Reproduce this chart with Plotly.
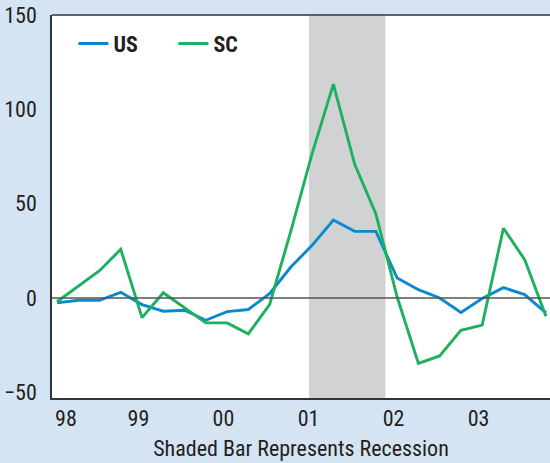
import plotly.graph_objects as go

quarters = [f"{y}Q{q}" for y in range(1998, 2004) for q in range(1, 5)]
us = [-2.6, -1.2, -1.2, 3.0, -3.5, -7.0, -6.5, -11.8, -7.2, -6.1, 2.3, 16.4,
      27.9, 41.3, 35.3, 35.3, 10.6, 4.4, 0.0, -7.7, -0.3, 5.5, 1.8, -7.9]
sc = [-2.0, 6.4, 14.5, 25.8, -10.4, 2.8, -5.0, -13.2, -13.2, -19.0, -3.5, 35.5,
      76.5, 113.4, 71.0, 44.6, 0.5, -34.7, -30.7, -17.1, -14.4, 37.0, 20.3, -9.7]
tick_labels = ["98", "99", "00", "01", "02", "03"]
recession = (11.85, 15.45)

x = list(range(len(quarters)))
tickvals = [0.42] + [4 * i - 0.17 for i in range(1, len(tick_labels))]

FONT = "Liberation Sans Narrow, Roboto Condensed, Noto Sans, sans-serif"
BLUE = "#0889d0"
GREEN = "#1db15e"

fig = go.Figure()
fig.add_trace(go.Scatter(x=x, y=us, mode="lines", name="US",
                         line=dict(color=BLUE, width=2.9)))
fig.add_trace(go.Scatter(x=x, y=sc, mode="lines", name="SC",
                         line=dict(color=GREEN, width=2.9)))

fig.add_shape(type="rect", xref="x", yref="paper", x0=recession[0], x1=recession[1],
              y0=0, y1=1, fillcolor="#d1d2d4", line_width=0, layer="below")
fig.add_shape(type="line", xref="paper", yref="y", x0=0, x1=1, y0=0, y1=0,
              line=dict(color="#555555", width=1.5), layer="above")

fig.update_layout(
    width=550, height=463,
    margin=dict(l=52, r=0, t=15, b=65),
    paper_bgcolor="#d4e4f3",
    plot_bgcolor="white",
    font=dict(family=FONT, size=22, color="#231f20"),
    showlegend=True,
    legend=dict(orientation="h", x=0.043, y=0.98, xanchor="left", yanchor="top",
                bgcolor="rgba(0,0,0,0)", font=dict(size=22, color="#231f20",
                family=FONT, weight="bold"),
                entrywidth=55, entrywidthmode="pixels"),
)
fig.update_xaxes(range=[-0.235, 23.19], tickvals=tickvals, ticktext=tick_labels,
                 showgrid=False, zeroline=False, showline=True, linecolor="#333333",
                 linewidth=1.5, ticks="", mirror=False,
                 title=dict(text="Shaded Bar Represents Recession", standoff=10,
                            font=dict(size=22)))
fig.update_yaxes(range=[-53, 150], tickvals=[-50, 0, 50, 100, 150],
                 showgrid=False, zeroline=False, showline=True, linecolor="#333333",
                 linewidth=1.5, ticks="", ticklabelstandoff=9)
fig.add_shape(type="line", xref="paper", yref="paper", x0=0, x1=1, y0=1, y1=1,
              line=dict(color="#333333", width=1.5))

fig.write_html("out.html", config={"displayModeBar": False},
               post_script="document.body.style.margin='0px';")
